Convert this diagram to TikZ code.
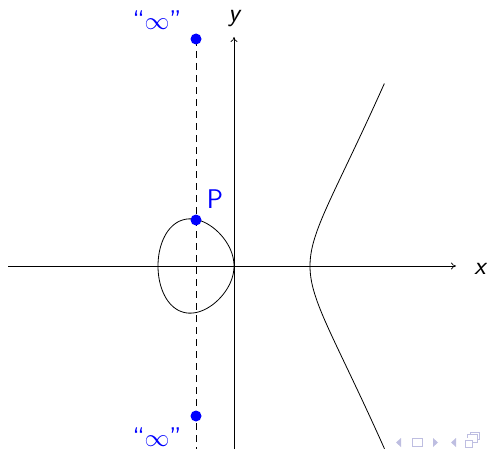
\documentclass[tikz,border=0pt]{standalone}
\usetikzlibrary{arrows.meta}
\definecolor{navc}{RGB}{190,190,225}
\tikzset{
  axis/.style={line width=0.7pt, -{To[length=5pt,width=7pt]}},
  curve/.style={line width=0.8pt, black},
  blue dot/.style={circle, fill=blue, inner sep=0pt, minimum size=11pt},
  bluelab/.style={text=blue, font=\fontsize{27}{30}\selectfont\sffamily},
  axlab/.style={font=\fontsize{26}{29}\selectfont\sffamily\itshape},
  dashline/.style={line width=0.8pt, dash pattern=on 7pt off 5pt},
  nav/.style={fill=navc, draw=none}
}
\begin{document}
\begin{tikzpicture}[x=1pt,y=-1pt]
\useasboundingbox (0,0) rectangle (487,452);
% axes
\coordinate (xs) at (8,266);
\coordinate (xe) at (456,266);
\coordinate (ys) at (234,449);
\coordinate (ye) at (234,37);
\draw[axis] (xs) -- (xe);
\draw[axis] (ys) -- (ye);
\node[axlab, anchor=base] (xl) at (480,274) {x};
\node[axlab, anchor=base] (yl) at (234,22) {y};
% dashed vertical line
\coordinate (dtop) at (196,39);
\coordinate (dbot) at (196,449);
\draw[dashline] (dtop) -- (dbot);
% curve: right branch, x = 1 + t^2
\draw[curve] plot[domain=-0.99:0.99, samples=120, smooth, variable=\t]
  ({234+76*(1+\t*\t)}, {266-76*\t*sqrt((1+\t*\t)*(2+\t*\t))});
% loop, x = -(1+cos th)/2
\draw[curve] plot[domain=0:360, samples=120, smooth, variable=\a]
  ({234-76*(1+cos(\a))/2}, {266-76*sin(\a)*sqrt((3+cos(\a))/8)}) -- cycle;
% points
\node[blue dot] (itop) at (196,39) {};
\node[blue dot] (ibot) at (196,416) {};
\node[blue dot] (P) at (196,220) {};
\node[bluelab] (Plab) at (215,199) {P};
\node[bluelab] (inftop) at (157,20) {“$\infty$”};
\node[bluelab] (infbot) at (157,437) {“$\infty$”};
% navigation symbols
\fill[nav] (401,438) -- (396,442.5) -- (401,447) -- cycle;
\draw[navc, line width=0.9pt] (412,438) rectangle (422,446);
\fill[nav] (433,438) -- (438,442.5) -- (433,447) -- cycle;
\fill[nav] (456,438) -- (451,442.5) -- (456,447) -- cycle;
\draw[navc, line width=0.9pt] (465,440) rectangle (472,447);
\draw[navc, line width=0.9pt] (467.5,437.5) -- (467.5,434.5) -- (477,434.5) -- (477,442) -- (472,442);
\draw[navc, line width=0.9pt] (470,434.5) -- (470,432) -- (479.5,432) -- (479.5,439.5) -- (477,439.5);
\end{tikzpicture}
\end{document}
